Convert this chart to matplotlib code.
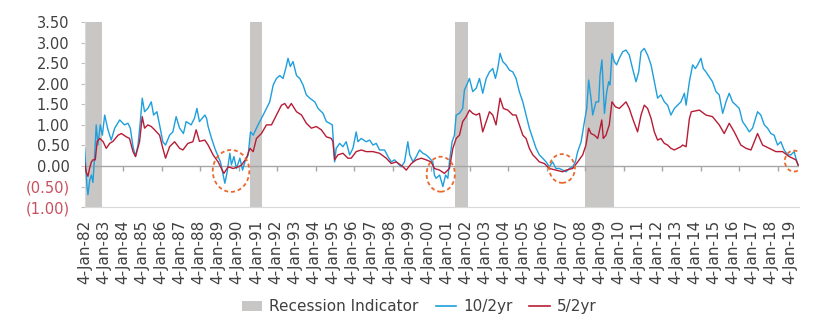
import matplotlib
matplotlib.use("Agg")
import matplotlib.pyplot as plt
from matplotlib.patches import Patch, Ellipse
from matplotlib.lines import Line2D

plt.rcParams["font.family"] = ["DejaVu Sans"]

# 10yr - 2yr spread (year, value)
yr_10_2 = [1982.00, 1982.12, 1982.17, 1982.26, 1982.35, 1982.43, 1982.52, 1982.60, 1982.69, 1982.81,
           1982.92, 1983.04, 1983.21, 1983.38, 1983.56, 1983.82, 1984.07, 1984.25, 1984.37, 1984.51,
           1984.64, 1984.77, 1984.89, 1984.99, 1985.11, 1985.28, 1985.46, 1985.58, 1985.75, 1985.89,
           1986.06, 1986.20, 1986.41, 1986.58, 1986.75, 1986.93, 1987.13, 1987.27, 1987.53, 1987.70,
           1987.83, 1987.96, 1988.24, 1988.33, 1988.41, 1988.59, 1988.76, 1988.93, 1989.05, 1989.19,
           1989.28, 1989.40, 1989.54, 1989.62, 1989.75, 1989.88, 1990.06, 1990.20, 1990.32, 1990.49,
           1990.61, 1990.75, 1990.92, 1991.09, 1991.27, 1991.44, 1991.61, 1991.79, 1991.96, 1992.13,
           1992.30, 1992.44, 1992.56, 1992.68, 1992.82, 1993.00, 1993.17, 1993.34, 1993.51, 1993.69,
           1993.95, 1994.12, 1994.38, 1994.55, 1994.72, 1994.86, 1994.98, 1995.06, 1995.24, 1995.41,
           1995.58, 1995.76, 1995.93, 1996.10, 1996.19, 1996.36, 1996.62, 1996.80, 1996.97, 1997.14,
           1997.31, 1997.57, 1997.75, 1997.92, 1998.09, 1998.27, 1998.44, 1998.61, 1998.78, 1998.88,
           1999.05, 1999.22, 1999.39, 1999.56, 1999.73, 1999.91, 2000.08, 2000.16, 2000.25, 2000.43,
           2000.60, 2000.74, 2000.86, 2000.94, 2001.08, 2001.20, 2001.29, 2001.46, 2001.63, 2001.72,
           2001.84, 2001.98, 2002.15, 2002.33, 2002.50, 2002.67, 2002.85, 2003.02, 2003.19, 2003.33,
           2003.45, 2003.57, 2003.71, 2003.88, 2004.06, 2004.23, 2004.40, 2004.57, 2004.75, 2004.92,
           2005.09, 2005.27, 2005.44, 2005.61, 2005.78, 2005.96, 2006.13, 2006.30, 2006.47, 2006.65,
           2006.82, 2007.00, 2007.17, 2007.34, 2007.48, 2007.60, 2007.78, 2007.95, 2008.07, 2008.17,
           2008.29, 2008.38, 2008.55, 2008.69, 2008.76, 2008.86, 2008.93, 2008.99, 2009.11, 2009.21,
           2009.28, 2009.38, 2009.50, 2009.62, 2009.76, 2009.94, 2010.11, 2010.28, 2010.45, 2010.63,
           2010.77, 2010.89, 2011.06, 2011.23, 2011.41, 2011.58, 2011.75, 2011.92, 2012.10, 2012.27,
           2012.44, 2012.62, 2012.79, 2012.96, 2013.14, 2013.23, 2013.40, 2013.57, 2013.71, 2013.83,
           2014.00, 2014.12, 2014.26, 2014.43, 2014.60, 2014.78, 2014.95, 2015.13, 2015.30, 2015.47,
           2015.64, 2015.82, 2015.99, 2016.16, 2016.34, 2016.51, 2016.68, 2016.94, 2017.11, 2017.29,
           2017.46, 2017.63, 2017.80, 2017.98, 2018.15, 2018.32, 2018.50, 2018.67, 2018.84, 2018.93,
           2019.05]
sp_10_2 = [0.43, -0.50, -0.70, -0.35, -0.22, -0.40, 0.27, 1.00, 0.51, 1.00,
           0.75, 1.24, 0.88, 0.63, 0.92, 1.12, 1.00, 1.04, 0.92, 0.47,
           0.23, 0.51, 1.08, 1.65, 1.32, 1.40, 1.56, 1.24, 1.32, 1.00,
           0.59, 0.51, 0.75, 0.83, 1.20, 0.92, 0.79, 1.08, 1.00, 1.16,
           1.40, 1.08, 1.24, 1.16, 0.96, 0.67, 0.43, 0.23, 0.10, -0.22,
           -0.42, -0.14, 0.31, 0.03, 0.23, -0.06, 0.19, -0.10, 0.10, 0.27,
           0.83, 0.75, 0.92, 1.08, 1.24, 1.40, 1.56, 1.97, 2.13, 2.20,
           2.13, 2.37, 2.62, 2.42, 2.54, 2.20, 2.13, 1.97, 1.73, 1.65,
           1.56, 1.40, 1.28, 1.08, 1.04, 1.00, 0.10, 0.43, 0.55, 0.47,
           0.59, 0.27, 0.43, 0.83, 0.59, 0.67, 0.59, 0.63, 0.51, 0.55,
           0.39, 0.39, 0.23, 0.10, 0.15, 0.06, -0.02, 0.10, 0.59, 0.27,
           0.10, 0.23, 0.39, 0.31, 0.27, 0.19, 0.10, -0.22, -0.30, -0.22,
           -0.50, -0.22, -0.30, 0.10, 0.59, 0.75, 1.24, 1.28, 1.40, 1.85,
           1.97, 2.13, 1.81, 1.89, 2.13, 1.77, 2.13, 2.29, 2.37, 2.13,
           2.37, 2.74, 2.54, 2.46, 2.33, 2.29, 2.13, 1.81, 1.56, 1.24,
           0.92, 0.67, 0.43, 0.27, 0.19, 0.10, -0.02, 0.10, -0.06, -0.06,
           -0.10, -0.14, -0.06, -0.02, 0.10, 0.35, 0.59, 1.08, 1.40, 2.09,
           1.65, 1.24, 1.56, 1.56, 2.21, 2.58, 1.89, 1.28, 1.81, 2.05,
           1.97, 2.74, 2.54, 2.46, 2.62, 2.78, 2.82, 2.70, 2.37, 2.05,
           2.29, 2.78, 2.86, 2.70, 2.46, 2.05, 1.65, 1.73, 1.56, 1.48,
           1.24, 1.40, 1.48, 1.56, 1.77, 1.48, 2.05, 2.46, 2.37, 2.46,
           2.62, 2.37, 2.29, 2.17, 2.05, 1.81, 1.73, 1.28, 1.56, 1.77,
           1.56, 1.48, 1.40, 1.08, 0.96, 0.83, 0.92, 1.32, 1.24, 1.00,
           0.92, 0.79, 0.75, 0.51, 0.59, 0.39, 0.27, 0.27, 0.35, 0.19,
           0.02]

# 5yr - 2yr spread
yr_5_2 = [1982.00, 1982.08, 1982.17, 1982.26, 1982.35, 1982.43, 1982.55, 1982.65, 1982.79, 1982.96,
          1983.12, 1983.30, 1983.47, 1983.74, 1983.91, 1984.16, 1984.33, 1984.51, 1984.64, 1984.85,
          1984.99, 1985.11, 1985.28, 1985.46, 1985.63, 1985.89, 1986.06, 1986.20, 1986.41, 1986.67,
          1986.93, 1987.10, 1987.36, 1987.62, 1987.79, 1987.96, 1988.24, 1988.41, 1988.67, 1988.93,
          1989.10, 1989.23, 1989.45, 1989.71, 1989.97, 1990.14, 1990.40, 1990.58, 1990.75, 1990.92,
          1991.18, 1991.44, 1991.70, 1991.96, 1992.22, 1992.39, 1992.56, 1992.73, 1993.00, 1993.26,
          1993.51, 1993.77, 1994.03, 1994.29, 1994.55, 1994.81, 1994.89, 1994.98, 1995.15, 1995.41,
          1995.67, 1995.84, 1996.10, 1996.36, 1996.62, 1996.97, 1997.31, 1997.66, 1997.92, 1998.18,
          1998.53, 1998.70, 1998.96, 1999.22, 1999.48, 1999.73, 1999.99, 2000.16, 2000.43, 2000.68,
          2000.94, 2001.12, 2001.29, 2001.46, 2001.63, 2001.81, 2001.98, 2002.15, 2002.33, 2002.50,
          2002.67, 2002.85, 2003.02, 2003.19, 2003.36, 2003.57, 2003.74, 2003.97, 2004.23, 2004.40,
          2004.57, 2004.75, 2004.92, 2005.09, 2005.27, 2005.44, 2005.61, 2005.87, 2006.13, 2006.47,
          2006.82, 2007.00, 2007.34, 2007.60, 2007.86, 2008.03, 2008.17, 2008.29, 2008.47, 2008.64,
          2008.76, 2008.85, 2008.93, 2009.07, 2009.24, 2009.38, 2009.56, 2009.76, 2009.94, 2010.11,
          2010.28, 2010.45, 2010.71, 2010.89, 2011.06, 2011.23, 2011.41, 2011.58, 2011.75, 2011.92,
          2012.10, 2012.27, 2012.44, 2012.62, 2012.79, 2012.96, 2013.05, 2013.23, 2013.40, 2013.50,
          2013.92, 2014.26, 2014.60, 2014.95, 2015.21, 2015.47, 2015.73, 2016.07, 2016.34, 2016.60,
          2016.94, 2017.20, 2017.55, 2017.89, 2018.24, 2018.58, 2018.93, 2019.05]
sp_5_2 = [0.07, -0.15, -0.25, -0.05, 0.10, 0.15, 0.15, 0.60, 0.67, 0.59,
          0.43, 0.55, 0.60, 0.75, 0.79, 0.71, 0.67, 0.35, 0.23, 0.59,
          1.20, 0.92, 1.00, 0.96, 0.88, 0.75, 0.43, 0.19, 0.47, 0.59,
          0.43, 0.39, 0.55, 0.59, 0.88, 0.60, 0.63, 0.51, 0.27, 0.10,
          -0.06, -0.18, -0.02, -0.06, -0.02, 0.02, 0.19, 0.43, 0.35, 0.67,
          0.79, 1.00, 1.00, 1.24, 1.48, 1.52, 1.40, 1.52, 1.32, 1.24,
          1.04, 0.92, 0.96, 0.88, 0.71, 0.67, 0.59, 0.15, 0.27, 0.31,
          0.19, 0.19, 0.35, 0.39, 0.35, 0.35, 0.31, 0.19, 0.06, 0.10,
          -0.02, -0.10, 0.06, 0.15, 0.19, 0.15, 0.10, -0.06, -0.10, -0.18,
          -0.06, 0.43, 0.67, 0.75, 1.08, 1.20, 1.36, 1.28, 1.24, 1.28,
          0.83, 1.08, 1.32, 1.24, 1.00, 1.65, 1.40, 1.36, 1.24, 1.24,
          1.00, 0.75, 0.67, 0.43, 0.27, 0.19, 0.10, 0.06, -0.06, -0.10,
          -0.14, -0.10, -0.06, 0.10, 0.27, 0.51, 0.92, 0.79, 0.75, 0.67,
          0.92, 1.12, 0.67, 0.75, 1.00, 1.56, 1.44, 1.40, 1.48, 1.56,
          1.40, 1.16, 0.83, 1.24, 1.48, 1.40, 1.16, 0.83, 0.63, 0.67,
          0.55, 0.51, 0.43, 0.39, 0.43, 0.47, 0.51, 0.47, 1.15, 1.32,
          1.36, 1.24, 1.20, 1.00, 0.79, 1.04, 0.83, 0.51, 0.43, 0.39,
          0.79, 0.51, 0.43, 0.35, 0.35, 0.23, 0.15, 0.02]

# recession periods (start, end)
recessions = [(1982.00, 1982.90), (1990.58, 1991.23), (2001.24, 2001.91), (2008.00, 2009.50)]

# highlighted inversions: centre year, centre value, width (yr), height
highlights = [(1989.60, -0.12, 1.90, 1.02), (2000.49, -0.20, 1.47, 0.85),
              (2006.79, -0.06, 1.33, 0.70), (2018.83, 0.12, 0.95, 0.51)]

y_ticks = [-1.0, -0.5, 0.0, 0.5, 1.0, 1.5, 2.0, 2.5, 3.0, 3.5]
label_years = list(range(1982, 2020))

BLUE = "#1E9FDC"
RED = "#B71C35"
GREY = "#C8C7C5"
TXT = "#404040"
NEG = "#C9505F"

fig = plt.figure(figsize=(8.3, 3.3), dpi=100)
ax = fig.add_axes([0.102, 0.3724, 0.8606, 0.5606])

for s, e in recessions:
    ax.axvspan(s, e, color=GREY, lw=0, zorder=1)

ax.axhline(0, color="#A6A6A6", lw=1.0, zorder=2)
# tick marks on the zero line every two years
ax.vlines(list(range(1984, 2019, 2)), -0.12, 0, color="#A6A6A6", lw=1.0, zorder=2)

ax.plot(yr_10_2, sp_10_2, color=BLUE, lw=1.0, zorder=3)
ax.plot(yr_5_2, sp_5_2, color=RED, lw=1.0, zorder=4)

for cx, cy, w, h in highlights:
    ax.add_patch(Ellipse((cx, cy), w, h, fill=False, ec="#EA6A2E", lw=1.3,
                         ls=(0, (2.2, 1.6)), zorder=5))

ax.set_xlim(1982.0, 2019.09)
ax.set_ylim(-1.0, 3.5)

ax.set_yticks(y_ticks)
ax.set_yticklabels(["(%.2f)" % -v if v < 0 else "%.2f" % v for v in y_ticks])
for lab, v in zip(ax.get_yticklabels(), y_ticks):
    lab.set_color(NEG if v < 0 else TXT)
ax.tick_params(axis="y", length=3, width=0.8, color="#BFBFBF", pad=8, labelsize=10.5)

# category labels drift slightly against the calendar (every 261 trading days)
ax.set_xticks([1982 + k * 0.990 for k in range(len(label_years))])
ax.set_xticklabels(["4-Jan-%02d" % (y % 100) for y in label_years], rotation=90, color=TXT)
ax.tick_params(axis="x", length=0, pad=9, labelsize=11)

for side in ["top", "right"]:
    ax.spines[side].set_visible(False)
ax.spines["left"].set_color("#D9D9D9")
ax.spines["bottom"].set_color("#D9D9D9")

handles = [Patch(color=GREY, lw=0), Line2D([], [], color=BLUE, lw=1.2),
           Line2D([], [], color=RED, lw=1.2)]
leg = fig.legend(handles, ["Recession Indicator", "10/2yr", "5/2yr"], loc="center",
                 bbox_to_anchor=(0.505, 0.07), ncol=3, frameon=False, fontsize=11,
                 handlelength=1.35, handleheight=0.55, handletextpad=0.45,
                 columnspacing=1.1)
for t in leg.get_texts():
    t.set_color(TXT)

fig.savefig("out.png", dpi=100)
